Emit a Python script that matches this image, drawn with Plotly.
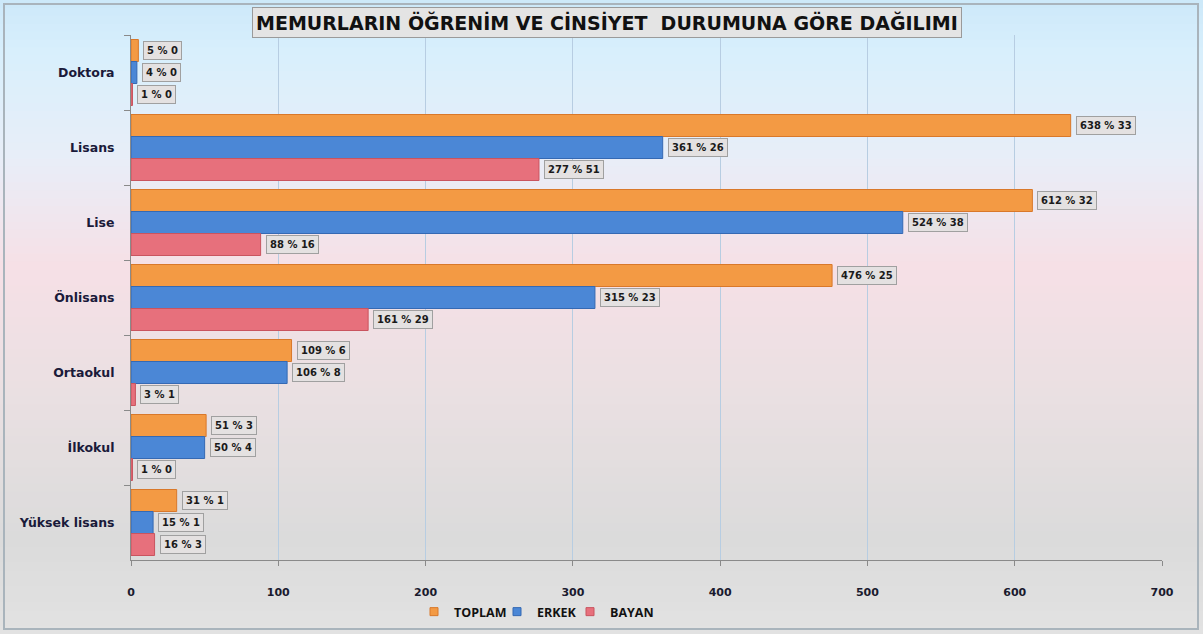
import plotly.graph_objects as go

categories = ["Doktora", "Lisans", "Lise", "Önlisans", "Ortaokul", "İlkokul", "Yüksek lisans"]
toplam = [5, 638, 612, 476, 109, 51, 31]
erkek = [4, 361, 524, 315, 106, 50, 15]
bayan = [1, 277, 88, 161, 3, 1, 16]
toplam_pct = [0, 33, 32, 25, 6, 3, 1]
erkek_pct = [0, 26, 38, 23, 8, 4, 1]
bayan_pct = [0, 51, 16, 29, 1, 0, 3]
series_names = ["TOPLAM", "ERKEK", "BAYAN"]
x_ticks = [0, 100, 200, 300, 400, 500, 600, 700]

colors = ["#F39A44", "#4B87D6", "#E7707C"]
lines = ["#D9782A", "#3569B3", "#C9545F"]
values = [toplam, erkek, bayan]
pcts = [toplam_pct, erkek_pct, bayan_pct]

pt, pb, pl, pr = 35, 74, 131, 41
H = 634
ph, pw = H - pt - pb, 1203 - pl - pr

bargap = 0.12
fig = go.Figure()
legend_ids = ["legend", "legend2", "legend3"]
for name, v, c, lc in zip(series_names, values, colors, lines):
    fig.add_trace(go.Bar(
        y=categories, x=v, name=name, orientation="h",
        marker=dict(color=c, line=dict(color=lc, width=1)),
        hoverinfo="x+y+name", showlegend=False,
    ))
# legend entries (small square markers like the original), one legend each
for name, c, lc, lg in zip(series_names, colors, lines, legend_ids):
    fig.add_trace(go.Scatter(
        x=[None], y=[None], mode="markers", name=name, legend=lg,
        marker=dict(symbol="square", size=8, color=c, line=dict(color=lc, width=1)),
    ))

# data labels boxes
annotations = []
bw = (1 - bargap) / 3
for si, (v, p) in enumerate(zip(values, pcts)):
    off = (si - 1) * bw
    for ci, (val, pc) in enumerate(zip(v, p)):
        annotations.append(dict(
            x=val, y=ci + off, xref="x", yref="y",
            text=f"<b>{val} % {pc}</b>", showarrow=False,
            xanchor="left", yanchor="middle", xshift=5,
            font=dict(family="DejaVu Sans", size=10, color="#1a1a1a"),
            bgcolor="#e4e1e1", bordercolor="#a0a0a0", borderwidth=1, borderpad=3,
        ))

# title box
annotations.append(dict(
    x=(607 - pl) / pw, y=1 + (pt - 22) / ph, xref="paper", yref="paper",
    text="<b>MEMURLARIN ÖĞRENİM VE CİNSİYET  DURUMUNA GÖRE DAĞILIMI</b>",
    showarrow=False, xanchor="center", yanchor="middle",
    font=dict(family="DejaVu Sans", size=19, color="#111111"),
    bgcolor="#e4e4e4", bordercolor="#9a9a9a", borderwidth=1, borderpad=3,
))

# background gradient stripes (figure-wide)
stops = [(0.0, (204, 233, 249)), (0.08, (216, 239, 252)), (0.25, (232, 238, 248)),
         (0.42, (246, 224, 230)), (0.62, (234, 224, 226)), (0.85, (219, 219, 219)),
         (1.0, (226, 226, 226))]

def interp(t):
    for (t0, c0), (t1, c1) in zip(stops[:-1], stops[1:]):
        if t0 <= t <= t1:
            f = (t - t0) / (t1 - t0) if t1 > t0 else 0
            return tuple(int(round(a + (b - a) * f)) for a, b in zip(c0, c1))
    return stops[-1][1]

shapes = []
N = 80
for i in range(N):
    y_top_px = H * i / N
    y_bot_px = H * (i + 1) / N + 1
    t = (i + 0.5) / N
    r, g, b = interp(t)
    y0 = (H - pb - y_bot_px) / ph
    y1 = (H - pb - y_top_px) / ph
    shapes.append(dict(type="rect", xref="paper", yref="paper",
                       x0=-pl / pw - 0.01, x1=1 + pr / pw + 0.01, y0=y0, y1=y1,
                       fillcolor=f"rgb({r},{g},{b})", line=dict(width=0), layer="below"))
# outer frame
shapes.append(dict(type="rect", xref="paper", yref="paper",
                   x0=(4 - pl) / pw, x1=(1198 - pl) / pw,
                   y0=(H - pb - 629) / ph, y1=(H - pb - 4) / ph,
                   fillcolor="rgba(0,0,0,0)", line=dict(color="#a9b4bc", width=2), layer="below"))

legend_font = dict(family="Open Sans", size=12.5, color="#111111", weight="bold")
legend_y = -(612 - (H - pb)) / ph
legend_left_px = [414, 497, 570]  # left edge of each single-item legend (px)
legend_cfg = {}
for lg, lx in zip(legend_ids, legend_left_px):
    legend_cfg[lg] = dict(orientation="h", x=(lx - pl) / pw, xanchor="left",
                          y=legend_y, yanchor="middle", font=legend_font,
                          itemwidth=30, bgcolor="rgba(0,0,0,0)")

fig.update_layout(
    width=1203, height=634,
    margin=dict(l=pl, r=pr, t=pt, b=pb, autoexpand=False),
    barmode="group", bargap=bargap, bargroupgap=0,
    paper_bgcolor="#e2e2e2", plot_bgcolor="rgba(0,0,0,0)",
    shapes=shapes, annotations=annotations,
    showlegend=True,
    font=dict(family="Open Sans"),
    **legend_cfg,
)
fig.update_xaxes(range=[0, 700], tickvals=x_ticks, showgrid=True, gridcolor="#b7cde2",
                 gridwidth=1, showline=True, linecolor="#8a8a8a", ticks="outside",
                 ticklen=5, tickcolor="#8a8a8a", zeroline=False, automargin=False,
                 ticklabelstandoff=17,
                 tickfont=dict(family="DejaVu Sans", size=11, color="#1a1a2e", weight="bold"))
fig.update_yaxes(autorange="reversed", showline=True, linecolor="#8a8a8a",
                 ticks="outside", tickson="boundaries", ticklen=6, tickcolor="#8a8a8a",
                 showgrid=False, automargin=False, ticklabelstandoff=13,
                 tickfont=dict(family="DejaVu Sans", size=12.5, color="#1a1a3a", weight="bold"))

fig.write_html("out.html", post_script="document.body.style.margin='0';",
               config={"displayModeBar": False})
